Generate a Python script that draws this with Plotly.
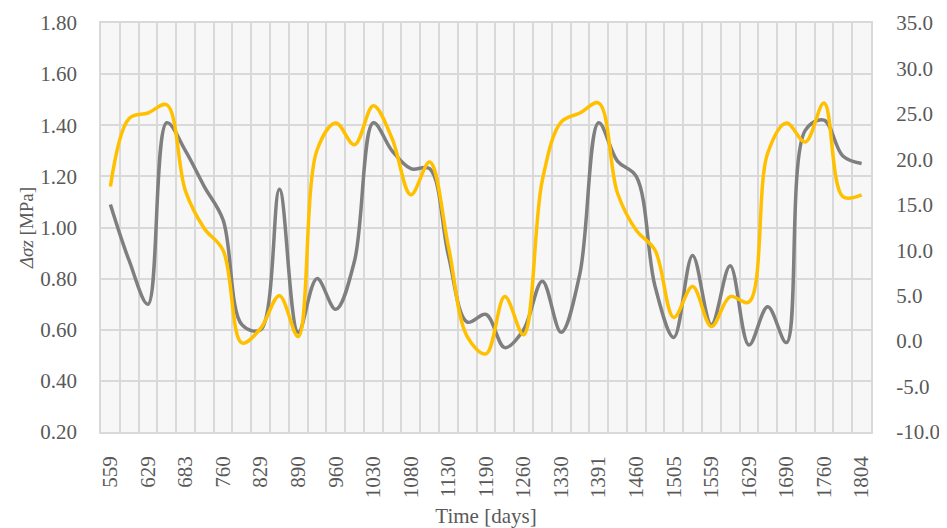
import plotly.graph_objects as go

day_labels = ["559", "629", "683", "760", "829", "890", "960", "1030", "1080", "1130",
              "1190", "1260", "1330", "1391", "1460", "1505", "1559", "1629", "1690",
              "1760", "1804"]

# Δσz [MPa] (left axis), one value per category (41 categories)
dsz = [1.09, 0.87, 0.70, 1.41, 1.30, 1.16, 1.03, 0.62, 0.60, 1.15,
       0.59, 0.80, 0.68, 0.87, 1.41, 1.30, 1.23, 1.23, 0.89, 0.63,
       0.66, 0.53, 0.60, 0.79, 0.59, 0.82, 1.41, 1.26, 1.20, 0.77,
       0.57, 0.89, 0.62, 0.85, 0.54, 0.69, 0.55, 1.38, 1.42, 1.28,
       1.25]

# second series (right axis)
sec = [17.0, 24.5, 25.1, 26.0, 16.5, 12.4, 10.0, -0.2, 1.4, 5.0,
       0.5, 21.0, 24.0, 21.6, 25.9, 22.3, 16.1, 19.7, 10.4, 0.5,
       -1.4, 4.9, 0.7, 17.7, 24.1, 25.1, 26.2, 16.3, 12.2, 10.0,
       2.6, 6.0, 1.6, 4.9, 4.3, 20.7, 24.0, 21.9, 26.2, 15.9,
       16.1]

y2_ticks = [35.0, 30.0, 25.0, 20.0, 15.0, 10.0, 5.0, 0.0, -5.0, -10.0]
y2_text = ["35.0", "30.0", "25.0", "20.0", "15.0", "10.0", "5.0", "0.0", "-5.0", "-10.0"]

n = len(dsz)
idx = list(range(n))
label_pos = idx[::2]

FONT = "Palatino Linotype, Book Antiqua, Palatino, Liberation Serif, serif"
TXT = "#595959"
GRID = "#d9d9d9"

fig = go.Figure()
fig.add_trace(go.Scatter(x=idx, y=dsz, mode="lines", line=dict(color="#7f7f7f", width=3.5, shape="spline", smoothing=1.0),
                         yaxis="y", showlegend=False, hoverinfo="skip"))
fig.add_trace(go.Scatter(x=idx, y=sec, mode="lines", line=dict(color="#ffc000", width=3.5, shape="spline", smoothing=1.0),
                         yaxis="y2", showlegend=False, hoverinfo="skip"))

# page body has an 8px default margin, so the figure is sized/offset accordingly
fig.update_layout(
    width=939, height=520,
    margin=dict(l=93, r=76, t=15, b=96),
    paper_bgcolor="white",
    plot_bgcolor="#f7f7f7",
    font=dict(family=FONT, size=21, color=TXT),
    xaxis=dict(
        range=[-0.5, n - 0.5], automargin=False,
        tickmode="array", tickvals=label_pos, ticktext=day_labels,
        tickangle=-90,
        showgrid=False, zeroline=False,
        ticks="outside", ticklen=14, tickcolor="rgba(0,0,0,0)",
        minor=dict(tick0=-0.5, dtick=1, showgrid=True, gridcolor=GRID, gridwidth=1.5, ticks=""),
        showline=True, linecolor=GRID, linewidth=1.5, mirror=True,
        title=dict(text="Time [days]", font=dict(size=21, color=TXT), standoff=14),
    ),
    yaxis=dict(
        range=[0.2, 1.8], dtick=0.2, tickformat=".2f", automargin=False,
        showgrid=True, gridcolor=GRID, gridwidth=1.5, zeroline=False,
        ticks="outside", ticklen=18, tickcolor="rgba(0,0,0,0)",
        showline=True, linecolor=GRID, linewidth=1.5, mirror=True,
        title=dict(text="<i>Δσz</i> [MPa]", font=dict(size=19, color=TXT), standoff=2),
    ),
    yaxis2=dict(
        range=[-10, 35], automargin=False,
        tickmode="array", tickvals=y2_ticks, ticktext=y2_text,
        overlaying="y", side="right",
        showgrid=False, zeroline=False,
        ticks="outside", ticklen=20, tickcolor="rgba(0,0,0,0)",
    ),
)

fig.write_html("out.html")
